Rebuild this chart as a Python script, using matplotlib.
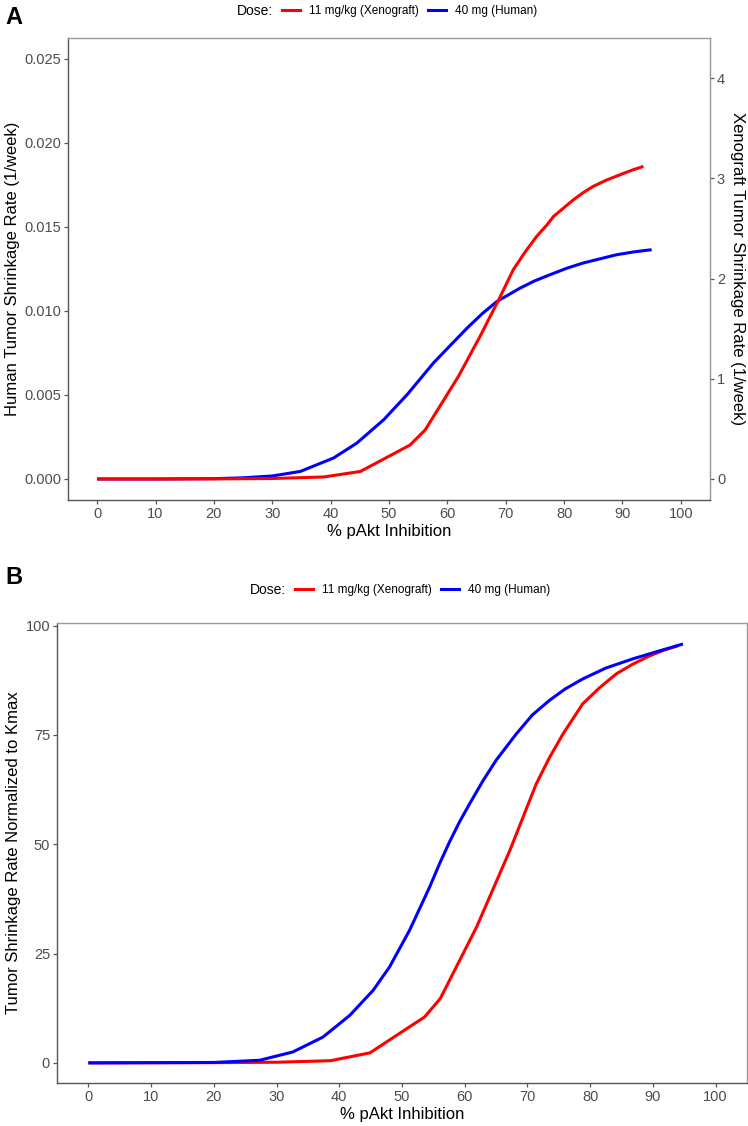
import matplotlib
matplotlib.use('Agg')
import matplotlib.pyplot as plt
from matplotlib.lines import Line2D

plt.rcParams['font.family'] = ['Liberation Sans', 'DejaVu Sans']

# panel A: raw shrinkage rates (left axis in human units, 1/week)
xeno_x_a = [0, 10, 20, 30, 38.8, 45.1, 53.6, 56.2, 61.9, 65.6, 68.8, 71.3, 73.3, 75.3, 77.0, 78.2,
            81.6, 83.3, 85.0, 87.3, 89.6, 91.6, 93.6]
xeno_y_a = [0, 0, 0.000005, 0.00003, 0.00012, 0.00045, 0.00202, 0.00292, 0.00611, 0.00849, 0.01067,
            0.01246, 0.0135, 0.01444, 0.0151, 0.01563, 0.01662, 0.01705, 0.01742, 0.0178, 0.01811,
            0.01838, 0.01861]
human_x_a = [0, 10, 20, 25, 30, 34.8, 40.5, 44.5, 49.1, 53.1, 57.6, 60.5, 63.4, 66.0, 68.5, 72.5,
             75.0, 77.6, 80.5, 83.3, 89.0, 92.0, 95.0]
human_y_a = [0, 0, 0.00002, 0.00007, 0.00018, 0.00045, 0.00125, 0.00214, 0.00353, 0.00502, 0.00690,
             0.00795, 0.00899, 0.00985, 0.01057, 0.01137, 0.0118, 0.01216, 0.01255, 0.01286,
             0.01335, 0.01352, 0.01365]
XENO_SCALE = 167.7  # right axis = left axis * scale

# panel B: normalized to Kmax (%)
xeno_x_b = [0, 20, 30, 38.6, 44.9, 53.6, 56.1, 61.9, 67.2, 71.4, 73.5, 75.7, 78.8, 81.5, 84.2,
            86.8, 89.5, 91.8, 94.0]
xeno_y_b = [0, 0.05, 0.15, 0.5, 2.3, 10.5, 14.7, 31.1, 48.6, 63.8, 69.8, 75.3, 82.1, 85.8, 89.0,
            91.2, 93.1, 94.4, 95.4]
human_x_b = [0, 20, 27.3, 32.6, 37.4, 41.7, 45.4, 48.0, 51.2, 54.4, 56.0, 57.6, 59.2, 60.8, 62.9,
             65.0, 68.2, 70.8, 73.5, 76.0, 78.8, 82.5, 86.8, 90.5, 94.8]
human_y_b = [0, 0.1, 0.6, 2.5, 5.9, 10.9, 16.6, 21.9, 30.3, 40.2, 45.6, 50.6, 55.2, 59.3, 64.5,
             69.2, 75.2, 79.6, 82.9, 85.5, 87.8, 90.3, 92.4, 94.0, 95.8]

labels = ['11 mg/kg (Xenograft)', '40 mg (Human)']
colors = ['#ff0000', '#0000ff']
xticks = list(range(0, 101, 10))

W, H = 748, 1126
fig = plt.figure(figsize=(W / 100, H / 100), dpi=100)

def px_axes(left, top, right, bottom):
    return fig.add_axes([left / W, 1 - bottom / H, (right - left) / W, (bottom - top) / H])

def style(ax):
    for s in ['left', 'bottom']:
        ax.spines[s].set_color('#555555')
    for s in ['top', 'right']:
        ax.spines[s].set_color('#9a9a9a')
    for s in ax.spines.values():
        s.set_linewidth(1.0)
    ax.tick_params(direction='out', length=3, width=0.9, color='#555555',
                   labelcolor='#4d4d4d', labelsize=10.5, pad=2)
    ax.set_xlim(-5, 105)
    ax.set_xticks(xticks)
    ax.set_xlabel('% pAkt Inhibition', fontsize=12, labelpad=2)

def legend(title_x, y):
    fig.text(title_x / W, 1 - y / H, 'Dose:', fontsize=10, va='center', ha='left')
    handles = [Line2D([], [], color=c, lw=2.2) for c in colors]
    fig.legend(handles, labels, loc='center left', bbox_to_anchor=((title_x + 45) / W, 1 - y / H),
               ncol=2, frameon=False, fontsize=8.5, handlelength=1.5, handletextpad=0.75,
               columnspacing=0.85, borderpad=0, borderaxespad=0)

# ---- panel A
ax = px_axes(68, 38, 710, 500)
style(ax)
ax.plot(human_x_a, human_y_a, color=colors[1], lw=2.2, solid_capstyle='butt')
ax.plot(xeno_x_a, xeno_y_a, color=colors[0], lw=2.2, solid_capstyle='butt')
ax.set_ylim(-0.00125, 0.02625)
ax.set_yticks([0, 0.005, 0.01, 0.015, 0.02, 0.025])
ax.set_yticklabels(['0.000', '0.005', '0.010', '0.015', '0.020', '0.025'])
ax.set_ylabel('Human Tumor Shrinkage Rate (1/week)', fontsize=12, labelpad=3)
sec = ax.secondary_yaxis('right', functions=(lambda v: v * XENO_SCALE, lambda v: v / XENO_SCALE))
sec.set_yticks([0, 1, 2, 3, 4])
sec.spines['right'].set_color('#9a9a9a')
sec.tick_params(direction='out', length=3, width=0.9, color='#555555',
                labelcolor='#4d4d4d', labelsize=10.5, pad=2)
sec.set_ylabel('Xenograft Tumor Shrinkage Rate (1/week)', fontsize=12, rotation=270, labelpad=14)

# ---- panel B
bx = px_axes(57, 623, 747, 1083)
style(bx)
bx.plot(xeno_x_b, xeno_y_b, color=colors[0], lw=2.2, solid_capstyle='butt')
bx.plot(human_x_b, human_y_b, color=colors[1], lw=2.2, solid_capstyle='butt')
bx.set_ylim(-4.6, 100.6)
bx.set_yticks([0, 25, 50, 75, 100])
bx.set_ylabel('Tumor Shrinkage Rate Normalized to Kmax', fontsize=12, labelpad=3)

legend(237, 11)
legend(250, 590)

fig.text(5 / W, 1 - 18 / H, 'A', fontsize=17, fontweight='bold', va='center')
fig.text(5 / W, 1 - 578 / H, 'B', fontsize=17, fontweight='bold', va='center')

fig.savefig('out.png', dpi=100)
